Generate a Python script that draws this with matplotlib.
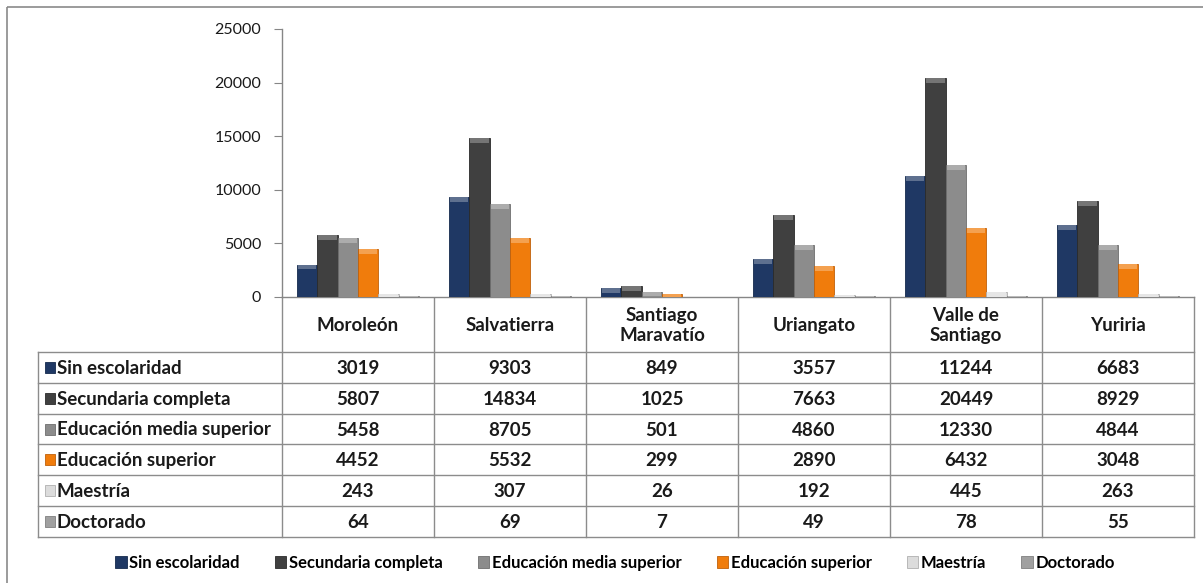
import matplotlib.pyplot as plt
from matplotlib.patches import Rectangle
from matplotlib.colors import to_rgb
import numpy as np

municipios = ['Moroleón', 'Salvatierra', 'Santiago\nMaravatío', 'Uriangato',
              'Valle de\nSantiago', 'Yuriria']
niveles = ['Sin escolaridad', 'Secundaria completa', 'Educación media superior',
           'Educación superior', 'Maestría', 'Doctorado']
sin_escolaridad = [3019, 9303, 849, 3557, 11244, 6683]
secundaria = [5807, 14834, 1025, 7663, 20449, 8929]
media_superior = [5458, 8705, 501, 4860, 12330, 4844]
superior = [4452, 5532, 299, 2890, 6432, 3048]
maestria = [243, 307, 26, 192, 445, 263]
doctorado = [64, 69, 7, 49, 78, 55]
series = [sin_escolaridad, secundaria, media_superior, superior, maestria, doctorado]
colores = ['#1f3864', '#404040', '#8c8c8c', '#f07c0c', '#dcdcdc', '#a0a0a0']
bordes = ['#152a4d', '#2a2a2a', '#6e6e6e', '#c0600a', '#b0b0b0', '#808080']


def aclarar(c, f=0.28):
    r, g, b = to_rgb(c)
    return (r + (1 - r) * f, g + (1 - g) * f, b + (1 - b) * f)


W, H = 1203, 583
plt.rcParams['font.family'] = ['Lato', 'DejaVu Sans']
fig = plt.figure(figsize=(W / 100, H / 100), dpi=100)

# pixel layout
ax_l, ax_r, ax_t, ax_b = 282, 1194, 29, 297
ax = fig.add_axes([ax_l / W, 1 - ax_b / H, (ax_r - ax_l) / W, (ax_b - ax_t) / H])

x = np.arange(len(municipios))
n = len(series)
ancho = 0.8 / n
tapa = 450  # bevel cap height in data units
for i, vals in enumerate(series):
    pos = x - 0.4 + ancho * (i + 0.5)
    ax.bar(pos, vals, ancho, color=colores[i], edgecolor=bordes[i],
           linewidth=0.6, zorder=3)
    vals = np.array(vals)
    alto = np.minimum(vals, tapa)
    ax.bar(pos, alto, ancho * 0.9, bottom=vals - alto, color=aclarar(colores[i]),
           linewidth=0, zorder=4)

ax.set_xlim(-0.5, len(municipios) - 0.5)
ax.set_ylim(0, 25000)
ax.set_yticks(range(0, 25001, 5000))
ax.set_xticks([])
ax.tick_params(axis='y', length=6, color='#868686', labelsize=11.5, pad=9,
               labelcolor='#1a1a1a')
for s in ['top', 'right']:
    ax.spines[s].set_visible(False)
for s in ['left', 'bottom']:
    ax.spines[s].set_color('#868686')
    ax.spines[s].set_linewidth(1)

# overlay in pixel coordinates for the border and data table
ov = fig.add_axes([0, 0, 1, 1], zorder=-1)
ov.set_xlim(0, W)
ov.set_ylim(H, 0)
ov.axis('off')
ov.add_patch(Rectangle((7, 7), W + 10, H, fill=False, edgecolor='#8a8a8a', lw=1.2))

lc = '#8c8c8c'
fs = 13.5
tab_l = 38
head_b = 352
row_h = 30.8
colw = (ax_r - ax_l) / len(municipios)
tab_b = head_b + row_h * len(niveles)

# header row
for j in range(len(municipios) + 1):
    xc = ax_l + j * colw
    ov.plot([xc, xc], [ax_b, tab_b], color=lc, lw=1)
for j, m in enumerate(municipios):
    ov.text(ax_l + (j + 0.5) * colw, (ax_b + head_b) / 2 + 1, m, ha='center',
            va='center', fontsize=fs, fontweight='bold', color='#1a1a1a',
            linespacing=1.25)

# body rows
for k in range(len(niveles) + 1):
    yk = head_b + k * row_h
    ov.plot([tab_l, ax_r], [yk, yk], color=lc, lw=1)
ov.plot([tab_l, tab_l], [head_b, tab_b], color=lc, lw=1)
for k, (nivel, vals) in enumerate(zip(niveles, series)):
    yc = head_b + (k + 0.5) * row_h
    ov.add_patch(Rectangle((45, yc - 5.5), 10, 11, facecolor=colores[k],
                           edgecolor=bordes[k], lw=0.6))
    ov.text(57, yc + 1, nivel, ha='left', va='center', fontsize=fs,
            fontweight='bold', color='#1a1a1a')
    for j, v in enumerate(vals):
        ov.text(ax_l + (j + 0.5) * colw, yc + 1, str(v), ha='center', va='center',
                fontsize=fs, fontweight='bold', color='#1a1a1a')

# legend
handles = [Rectangle((0, 0), 1, 1, facecolor=colores[i], edgecolor=bordes[i], lw=0.6)
           for i in range(n)]
fig.legend(handles, niveles, loc='center', bbox_to_anchor=(615 / W, 1 - 563 / H),
           ncol=n, frameon=False, handlelength=0.7, handleheight=0.7,
           handletextpad=0.15, columnspacing=2.1,
           prop={'size': 12, 'weight': 'bold'})

fig.savefig('out.png', dpi=100)
